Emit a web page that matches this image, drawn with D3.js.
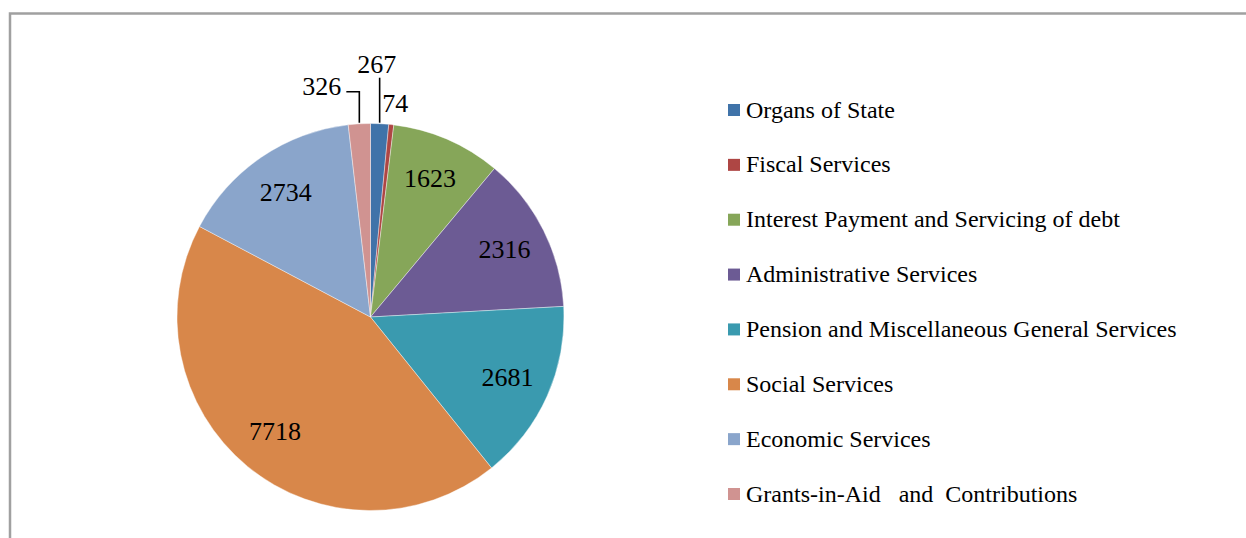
<!DOCTYPE html>
<html>
<head>
<meta charset="utf-8">
<script src="https://cdn.jsdelivr.net/npm/d3@7"></script>
<style>
  html, body { margin: 0; padding: 0; background: #fff; }
  svg { display: block; }
  text { font-family: "Liberation Serif", "Times New Roman", "DejaVu Serif", serif; fill: #000; }
</style>
</head>
<body>
<svg id="chart" width="1246" height="538"></svg>
<script>
const categories = [
  "Organs of State",
  "Fiscal Services",
  "Interest Payment and Servicing of debt",
  "Administrative Services",
  "Pension and Miscellaneous General Services",
  "Social Services",
  "Economic Services",
  "Grants-in-Aid   and  Contributions"
];
const values = [267, 74, 1623, 2316, 2681, 7718, 2734, 326];
const colors = ["#4073A9", "#AE4644", "#86A659", "#6C5B94", "#3A9AAF", "#D8874A", "#8AA5CB", "#D09391"];
// which labels sit outside the pie
const outsideLabels = [true, true, false, false, false, false, false, true];

const svg = d3.select("#chart");
const W = 1246, H = 538;

// chart frame
svg.append("rect")
  .attr("x", 10).attr("y", 13.5)
  .attr("width", W + 20).attr("height", H + 20)
  .attr("fill", "none")
  .attr("stroke", "#a0a0a0")
  .attr("stroke-width", 2.5);

const cx = 370.5, cy = 317, R = 193.5;
const data = categories.map((c, i) => ({ name: c, value: values[i], color: colors[i], outside: outsideLabels[i] }));

const pie = d3.pie().sort(null).value(d => d.value);
const arcs = pie(data);
const arc = d3.arc().innerRadius(0).outerRadius(R);
const labelArc = d3.arc().innerRadius(150).outerRadius(150);
const edgeArc = d3.arc().innerRadius(R).outerRadius(R);

const g = svg.append("g").attr("transform", `translate(${cx},${cy})`);

g.selectAll("path.slice")
  .data(arcs)
  .enter().append("path")
  .attr("class", "slice")
  .attr("d", arc)
  .attr("fill", d => d.data.color)
  .attr("stroke", "#ffffff")
  .attr("stroke-width", 0.4);

// inside labels
g.selectAll("text.inlabel")
  .data(arcs.filter(d => !d.data.outside))
  .enter().append("text")
  .attr("class", "inlabel")
  .attr("transform", d => `translate(${labelArc.centroid(d)})`)
  .attr("text-anchor", "middle")
  .attr("dy", "0.3em")
  .style("font-size", "26px")
  .text(d => d.data.value);

// outside labels with leader lines
const outs = arcs.filter(d => d.data.outside);
outs.forEach(d => {
  const [ex, ey] = edgeArc.centroid(d);
  const name = d.data.name;
  if (name === "Organs of State") {
    g.append("path")
      .attr("d", `M${ex},${ey - 1} V${ey - 46}`)
      .attr("fill", "none").attr("stroke", "#000").attr("stroke-width", 1.6);
    g.append("text")
      .attr("x", ex - 3).attr("y", ey - 51)
      .attr("text-anchor", "middle")
      .style("font-size", "26px")
      .text(d.data.value);
  } else if (name === "Fiscal Services") {
    g.append("text")
      .attr("x", ex + 4).attr("y", ey - 13)
      .attr("text-anchor", "middle")
      .style("font-size", "26px")
      .text(d.data.value);
  } else {
    g.append("path")
      .attr("d", `M${ex},${ey - 1} V${ey - 32} H${ex - 13}`)
      .attr("fill", "none").attr("stroke", "#000").attr("stroke-width", 1.6);
    g.append("text")
      .attr("x", ex - 18).attr("y", ey - 29)
      .attr("text-anchor", "end")
      .style("font-size", "26px")
      .text(d.data.value);
  }
});

// legend
const ly = d3.scalePoint().domain(categories).range([110, 494]);
const legend = svg.append("g");
const items = legend.selectAll("g.item")
  .data(data)
  .enter().append("g")
  .attr("class", "item")
  .attr("transform", d => `translate(728,${ly(d.name)})`);
items.append("rect")
  .attr("x", 0).attr("y", -6)
  .attr("width", 12).attr("height", 12)
  .attr("fill", d => d.color);
items.append("text")
  .attr("x", 18).attr("y", 7.5)
  .style("font-size", "24px")
  .style("white-space", "pre")
  .attr("xml:space", "preserve")
  .text(d => d.name);
</script>
</body>
</html>
